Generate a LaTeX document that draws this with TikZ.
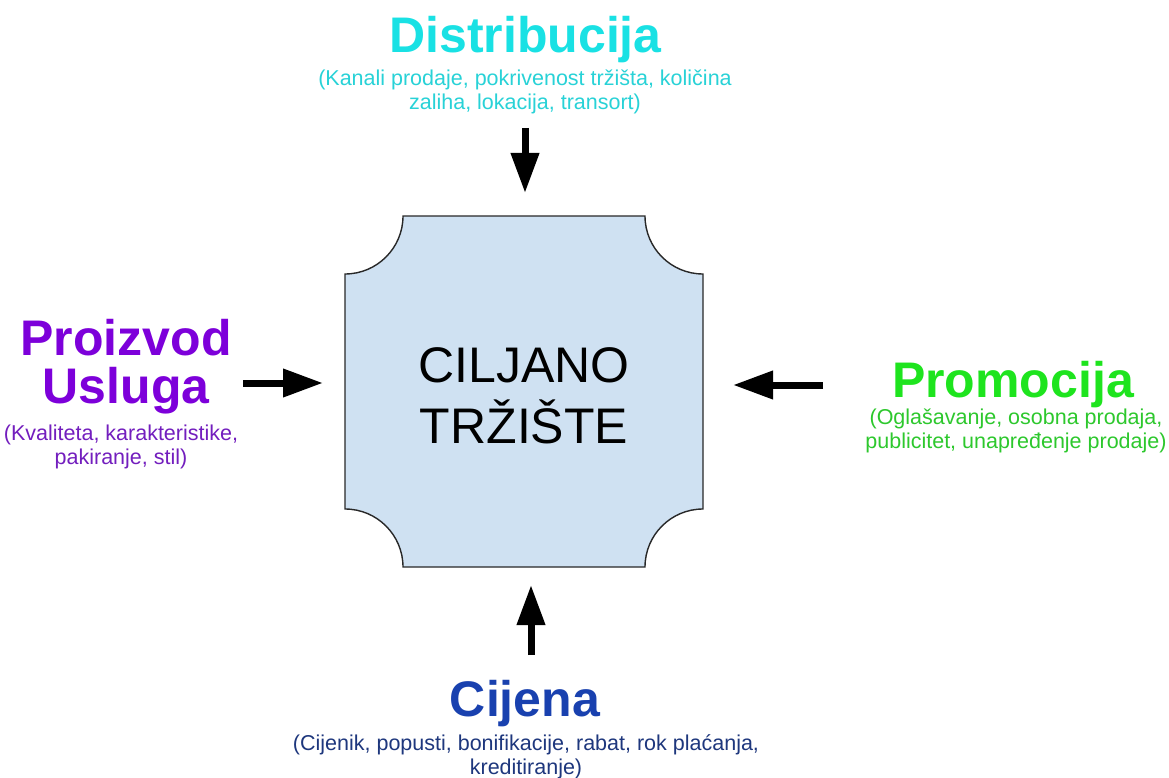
\documentclass[tikz,border=0pt]{standalone}
\usepackage{fontspec}
\setmainfont{Liberation Sans}
\usetikzlibrary{arrows.meta}
\definecolor{cdist}{RGB}{25,225,228}
\definecolor{cdistsub}{RGB}{40,210,215}
\definecolor{cprod}{RGB}{125,0,218}
\definecolor{cprodsub}{RGB}{115,30,190}
\definecolor{cprom}{RGB}{30,228,30}
\definecolor{cpromsub}{RGB}{45,200,45}
\definecolor{ccij}{RGB}{25,65,175}
\definecolor{ccijsub}{RGB}{30,55,125}
\definecolor{boxfill}{RGB}{207,225,242}
\definecolor{boxline}{RGB}{40,40,40}
\begin{document}
\begin{tikzpicture}[x=1pt,y=-1pt,
  titletext/.style={anchor=base, inner sep=0pt, font=\fontsize{50}{42}\selectfont\bfseries},
  subtext/.style={anchor=base, inner sep=0pt, font=\fontsize{21.5}{24}\selectfont},
  midtext/.style={anchor=base, inner sep=0pt, font=\fontsize{50}{60}\selectfont},
  arr/.style={line width=7pt, -{Triangle[length=40pt,width=27pt]}}]
\useasboundingbox[fill=white] (0,0) rectangle (1169,778);
% central box
\node[minimum width=358pt, minimum height=351pt, inner sep=0pt, outer sep=0pt] (box) at (524,391.5) {};
\draw[boxline, line width=1.4pt, fill=boxfill]
  (403,216) -- (645,216)
  .. controls (645,248) and (671,274) .. (703,274)
  -- (703,509)
  .. controls (671,509) and (645,535) .. (645,567)
  -- (403,567)
  .. controls (403,535) and (377,509) .. (345,509)
  -- (345,274)
  .. controls (377,274) and (403,248) .. (403,216) -- cycle;
\node[midtext] (t1) at (524,382) {CILJANO};
\node[midtext] (t2) at (524,443) {TRŽIŠTE};
% Distribucija
\node[titletext, text=cdist] (dist) at (525.5,53) {Distribucija};
\node[subtext, text=cdistsub] (distsub) at (525,86) {\begin{tabular}[t]{@{}c@{}}(Kanali prodaje, pokrivenost tržišta, količina\\zaliha, lokacija, transort)\end{tabular}};
% Proizvod
\node[titletext, text=cprod] (prod) at (126,355) {\begin{tabular}[t]{@{}c@{}}Proizvod\\Usluga\end{tabular}};
\node[subtext, text=cprodsub] (prodsub) at (121,440) {\begin{tabular}[t]{@{}c@{}}(Kvaliteta, karakteristike,\\pakiranje, stil)\end{tabular}};
% Promocija
\node[titletext, text=cprom] (prom) at (1013,397) {Promocija};
\node[subtext, text=cpromsub] (promsub) at (1016,424) {\begin{tabular}[t]{@{}c@{}}(Oglašavanje, osobna prodaja,\\publicitet, unapređenje prodaje)\end{tabular}};
% Cijena
\node[titletext, text=ccij] (cij) at (525,716) {Cijena};
\node[subtext, text=ccijsub] (cijsub) at (526,750) {\begin{tabular}[t]{@{}c@{}}(Cijenik, popusti, bonifikacije, rabat, rok plaćanja,\\kreditiranje)\end{tabular}};
% arrows
\coordinate (atop) at (525,128);
\coordinate (aleft) at (243,383);
\coordinate (aright) at (823,385);
\coordinate (abot) at (531,655);
\draw[arr, shorten >=23pt] (atop) -- (atop |- box.north);
\draw[arr, shorten >=22pt] (aleft) -- (aleft -| box.west);
\draw[arr, shorten >=30pt] (aright) -- (aright -| box.east);
\draw[arr, shorten >=18pt] (abot) -- (abot |- box.south);
\end{tikzpicture}
\end{document}
